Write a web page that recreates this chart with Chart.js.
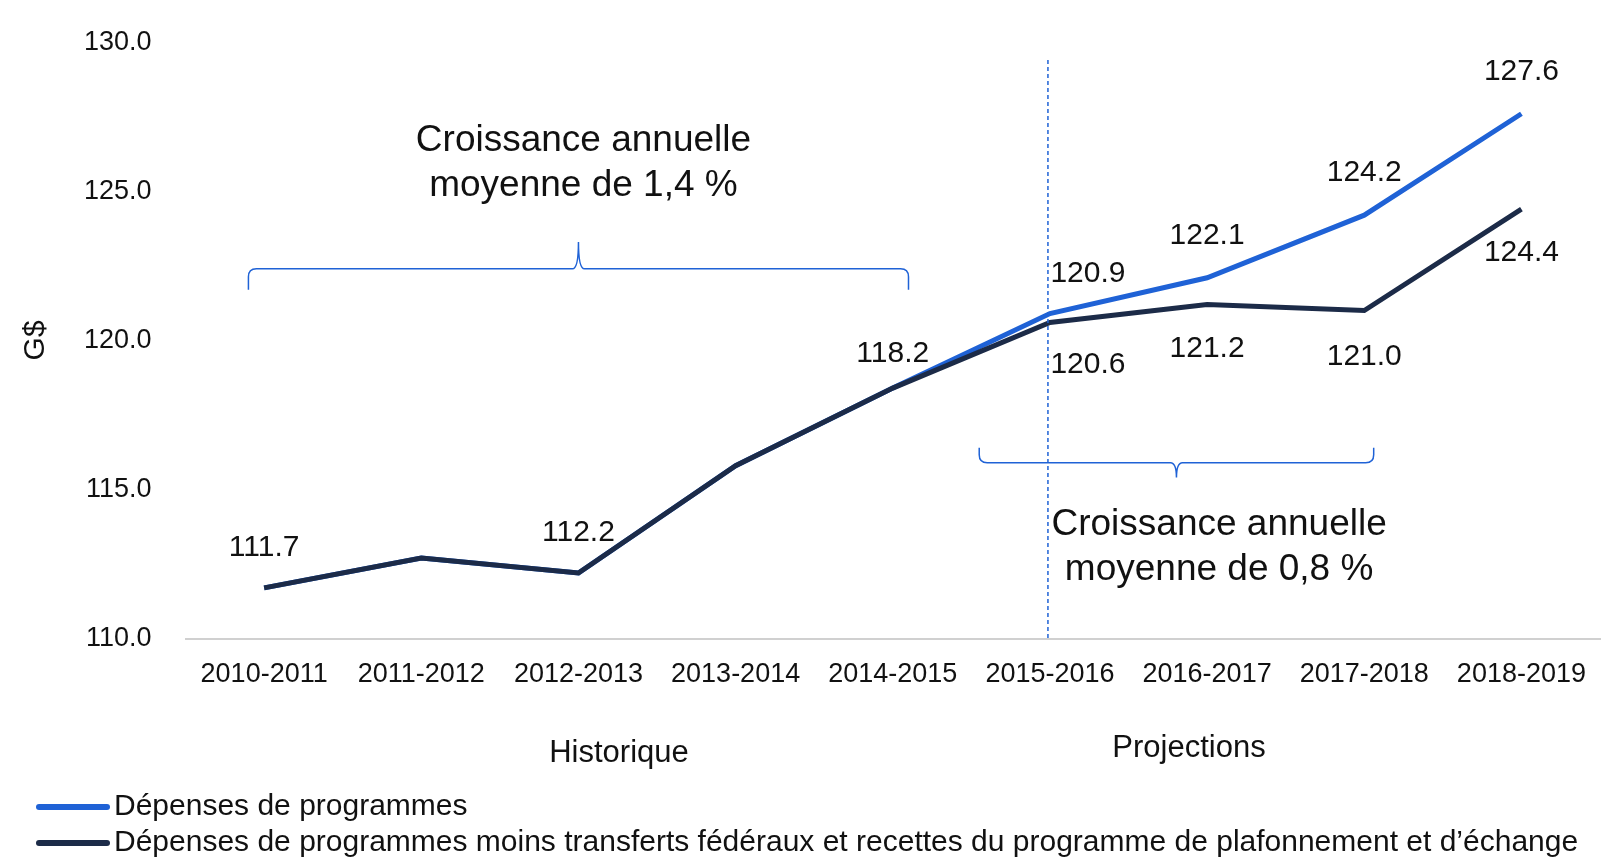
<!DOCTYPE html>
<html>
<head>
<meta charset="utf-8">
<script src="https://cdn.jsdelivr.net/npm/chart.js@4"></script>
<style>
  html, body { margin: 0; padding: 0; background: #fff; }
  #wrap { width: 1620px; height: 863px; }
</style>
</head>
<body>
<div id="wrap"><canvas id="chart"></canvas></div>
<script>
const years = ['2010-2011','2011-2012','2012-2013','2013-2014','2014-2015','2015-2016','2016-2017','2017-2018','2018-2019'];
const programSpending = [111.7, 112.7, 112.2, 115.8, 118.4, 120.9, 122.1, 124.2, 127.6];
const netSpending = [111.7, 112.7, 112.2, 115.8, 118.4, 120.6, 121.2, 121.0, 124.4];
// labels shown on the picture (index, text, dx, dy in px)
const blueLabels = [[5,'120.9',38,-40],[6,'122.1',0,-42],[7,'124.2',0,-42],[8,'127.6',0,-42]];
const darkLabels = [[0,'111.7',0,-40],[2,'112.2',0,-40],[4,'118.2',0,-34],[5,'120.6',38,42],[6,'121.2',0,44],[7,'121.0',0,46],[8,'124.4',0,44]];

const FONT = '"Liberation Sans", Arial, sans-serif';
const BLUE = '#1f62d6';
const DARK = '#1c2b48';

const annotations = {
  id: 'annotations',
  afterDatasetsDraw(chart) {
    const {ctx, scales: {x, y}, chartArea} = chart;
    const xp = i => x.getPixelForValue(i);
    ctx.save();
    ctx.textAlign = 'center';
    ctx.textBaseline = 'middle';
    ctx.fillStyle = '#111';
    ctx.font = '30px ' + FONT;
    blueLabels.forEach(([i, t, dx, dy]) => ctx.fillText(t, xp(i) + dx, y.getPixelForValue(programSpending[i]) + dy));
    darkLabels.forEach(([i, t, dx, dy]) => ctx.fillText(t, xp(i) + dx, y.getPixelForValue(netSpending[i]) + dy));

    // dashed divider
    ctx.strokeStyle = BLUE;
    ctx.lineWidth = 1.5;
    ctx.setLineDash([4, 3]);
    ctx.beginPath();
    ctx.moveTo(xp(5) - 2, y.getPixelForValue(129.4));
    ctx.lineTo(xp(5) - 2, chartArea.bottom);
    ctx.stroke();
    ctx.setLineDash([]);

    // brackets
    function bracket(x1, x2, yv, tipV, midV) {
      const yy = y.getPixelForValue(yv), yt = y.getPixelForValue(tipV), ym = y.getPixelForValue(midV);
      const xm = (x1 + x2) / 2, r = 8 * Math.sign(yt - yy);
      ctx.beginPath();
      ctx.moveTo(x1, yt);
      ctx.lineTo(x1, yy + r);
      ctx.quadraticCurveTo(x1, yy, x1 + 8, yy);
      ctx.lineTo(xm - 6, yy);
      ctx.quadraticCurveTo(xm, yy, xm, ym);
      ctx.quadraticCurveTo(xm, yy, xm + 6, yy);
      ctx.lineTo(x2 - 8, yy);
      ctx.quadraticCurveTo(x2, yy, x2, yy + r);
      ctx.lineTo(x2, yt);
      ctx.stroke();
    }
    const step = xp(1) - xp(0);
    bracket(xp(0) - 0.1 * step, xp(4) + 0.1 * step, 122.4, 121.7, 123.3);
    bracket(xp(5) - 0.45 * step, xp(7) + 0.06 * step, 115.9, 116.4, 115.4);

    ctx.font = '37px ' + FONT;
    ctx.fillText('Croissance annuelle', xp(2) + 5, y.getPixelForValue(126.7));
    ctx.fillText('moyenne de 1,4 %', xp(2) + 5, y.getPixelForValue(125.2));
    ctx.fillText('Croissance annuelle', xp(6) + 12, y.getPixelForValue(113.8));
    ctx.fillText('moyenne de 0,8 %', xp(6) + 12, y.getPixelForValue(112.3));

    ctx.font = '31px ' + FONT;
    ctx.fillText('Historique', 619, 753);
    ctx.fillText('Projections', 1189, 748);

    // legend
    ctx.textAlign = 'left';
    ctx.font = '30px ' + FONT;
    [[BLUE, 'Dépenses de programmes', 807], [DARK, 'Dépenses de programmes moins transferts fédéraux et recettes du programme de plafonnement et d’échange', 843]]
      .forEach(([c, t, yy]) => {
        ctx.strokeStyle = c; ctx.lineWidth = 6; ctx.lineCap = 'round';
        ctx.beginPath(); ctx.moveTo(39, yy); ctx.lineTo(107, yy); ctx.stroke();
        ctx.fillText(t, 114, yy);
      });
    ctx.restore();
  }
};

new Chart('chart', {
  type: 'line',
  data: {
    labels: years,
    datasets: [
      { label: 'Dépenses de programmes moins transferts fédéraux et recettes du programme de plafonnement et d’échange',
        data: netSpending, borderColor: DARK, borderWidth: 5, pointRadius: 0, order: 0 },
      { label: 'Dépenses de programmes',
        data: programSpending, borderColor: BLUE, borderWidth: 5, pointRadius: 0, order: 1 }
    ]
  },
  options: {
    responsive: true,
    maintainAspectRatio: false,
    animation: false,
    layout: { padding: { left: 14, right: 20, top: 32, bottom: 160 } },
    plugins: { legend: { display: false }, tooltip: { enabled: false } },
    scales: {
      x: {
        offset: true,
        grid: { display: false },
        border: { color: '#d0d0d0', width: 2 },
        ticks: { color: '#111', font: { family: FONT, size: 27 }, maxRotation: 0, autoSkip: false, padding: 12 }
      },
      y: {
        min: 110, max: 130,
        grid: { display: false },
        border: { display: false },
        title: { display: true, text: 'G$', color: '#111', font: { family: FONT, size: 30 } },
        ticks: { stepSize: 5, color: '#111', padding: 26, font: { family: FONT, size: 27 },
                 callback: v => v.toFixed(1) }
      }
    }
  },
  plugins: [annotations]
});
</script>
</body>
</html>
